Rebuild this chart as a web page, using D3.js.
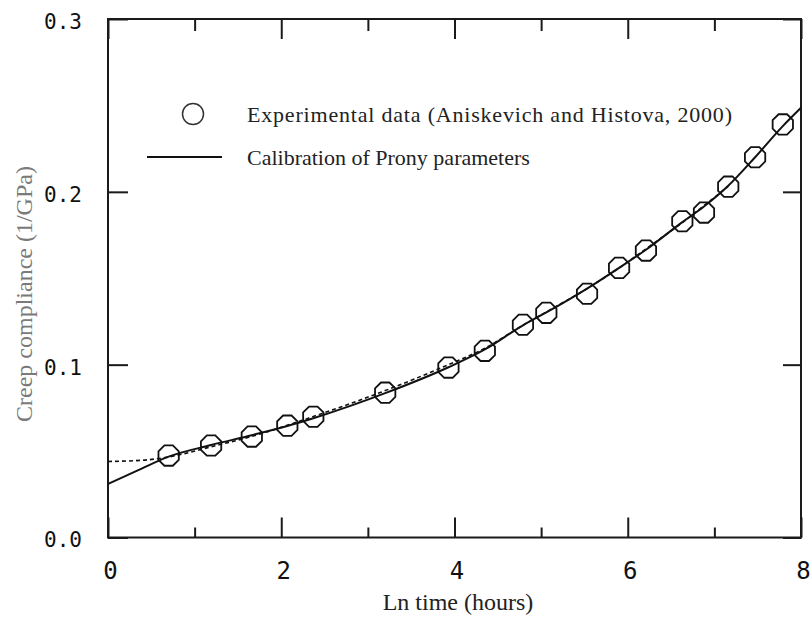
<!DOCTYPE html>
<html>
<head>
<meta charset="utf-8">
<style>
    html, body { margin: 0; padding: 0; background: #fff; }
    svg { display: block; }
</style>
</head>
<body>
<svg width="811" height="618"></svg>
<script src="https://d3js.org/d3.v7.min.js"></script>
<script>

    // experimental points (ln time, compliance)
    var expTime = [0.70, 1.19, 1.66, 2.07, 2.37, 3.20, 3.93, 4.35, 4.79, 5.06, 5.53, 5.90, 6.21, 6.63, 6.88, 7.16, 7.47, 7.79];
    var expComp = [0.0474, 0.0532, 0.0584, 0.0647, 0.0699, 0.0838, 0.0983, 0.1080, 0.1231, 0.1300, 0.1410, 0.1560, 0.1660, 0.1830, 0.1880, 0.2030, 0.2200, 0.2390];

    // calibrated curve (solid)
    var fitTime = [0, 0.35, 0.70, 1.19, 1.66, 2.07, 2.37, 3.20, 3.93, 4.35, 4.79, 5.06, 5.53, 5.90, 6.21, 6.63, 6.88, 7.16, 7.47, 7.79, 8.0];
    var fitComp = [0.0310, 0.0390, 0.0468, 0.0535, 0.0592, 0.0645, 0.0690, 0.0835, 0.0985, 0.1088, 0.1228, 0.1302, 0.1440, 0.1560, 0.1665, 0.1825, 0.1915, 0.2035, 0.2200, 0.2380, 0.2486];

    // dashed curve
    var dashTime = [0, 0.40, 0.70, 1.19, 1.66, 2.37, 3.20, 3.93, 4.35, 4.79, 5.06, 5.53, 5.90, 6.21, 6.63, 6.88, 7.16];
    var dashComp = [0.0440, 0.0447, 0.0466, 0.0525, 0.0585, 0.0700, 0.0850, 0.1000, 0.1095, 0.1228, 0.1305, 0.1440, 0.1560, 0.1670, 0.1822, 0.1920, 0.2032];

    var xMajor = [0, 2, 4, 6, 8];
    var xMinor = [1, 3, 5, 7];
    var yMajor = [0, 0.1, 0.2, 0.3];

    var legendLabels = ["Experimental data (Aniskevich and Histova, 2000)", "Calibration of Prony parameters"];
    var xTitle = "Ln time (hours)";
    var yTitle = "Creep compliance (1/GPa)";

    var svg = d3.select("svg"),
        pLeft = 108, pRight = 801, pTop = 19, pBottom = 537.5;

    var x = d3.scaleLinear().domain([0, 8]).range([pLeft, pRight]);
    var y = d3.scaleLinear().domain([0, 0.3]).range([pBottom, pTop]);

    function zip(a, b) { return a.map(function(v, i) { return [v, b[i]]; }); }

    // frame
    svg.append("rect")
        .attr("x", pLeft).attr("y", pTop)
        .attr("width", pRight - pLeft).attr("height", pBottom - pTop)
        .attr("fill", "none").attr("stroke", "#1a1a1a").attr("stroke-width", 2);

    function styleAxis(g) {
        g.select(".domain").remove();
        g.selectAll("line").attr("stroke", "#1a1a1a").attr("stroke-width", 2);
    }

    // major/minor ticks, all four sides, pointing inward
    var xb = svg.append("g").attr("transform", "translate(0," + pBottom + ")")
        .call(d3.axisBottom(x).tickValues(xMajor).tickSize(-20).tickPadding(24).tickFormat(d3.format("d")));
    styleAxis(xb);
    xb.selectAll("text")
        .attr("font-family", "DejaVu Sans Mono, monospace")
        .attr("font-size", 24).attr("fill", "#111").attr("dx", 2);
    svg.append("g").attr("transform", "translate(0," + pBottom + ")")
        .call(d3.axisBottom(x).tickValues(xMinor).tickSize(-10).tickFormat(""))
        .call(styleAxis);
    svg.append("g").attr("transform", "translate(0," + pTop + ")")
        .call(d3.axisTop(x).tickValues(xMajor).tickSize(-20).tickFormat(""))
        .call(styleAxis);
    svg.append("g").attr("transform", "translate(0," + pTop + ")")
        .call(d3.axisTop(x).tickValues(xMinor).tickSize(-12).tickFormat(""))
        .call(styleAxis);

    var yl = svg.append("g").attr("transform", "translate(" + pLeft + ",0)")
        .call(d3.axisLeft(y).tickValues(yMajor).tickSize(-20).tickPadding(26).tickFormat(d3.format(".1f")));
    styleAxis(yl);
    yl.selectAll("text")
        .attr("font-family", "DejaVu Sans Mono, monospace")
        .attr("font-size", 21).attr("fill", "#111").attr("dy", "0.45em");
    svg.append("g").attr("transform", "translate(" + pRight + ",0)")
        .call(d3.axisRight(y).tickValues(yMajor).tickSize(-18).tickFormat(""))
        .call(styleAxis);

    // curves
    var line = d3.line()
        .x(function(d) { return x(d[0]); })
        .y(function(d) { return y(d[1]); })
        .curve(d3.curveMonotoneX);

    svg.append("path")
        .datum(zip(dashTime, dashComp))
        .attr("fill", "none")
        .attr("stroke", "#111")
        .attr("stroke-width", 1.6)
        .attr("stroke-dasharray", "4,3")
        .attr("d", line);

    svg.append("path")
        .datum(zip(fitTime, fitComp))
        .attr("fill", "none")
        .attr("stroke", "#111")
        .attr("stroke-width", 2)
        .attr("d", line);

    // octagon markers
    var r = 11;
    var octagon = d3.range(8).map(function(k) {
        var a = Math.PI / 8 + k * Math.PI / 4;
        return [r * Math.cos(a), r * Math.sin(a)];
    });
    var octPath = "M" + octagon.join("L") + "Z";

    svg.append("g").selectAll("path")
        .data(zip(expTime, expComp))
        .enter().append("path")
        .attr("transform", function(d) { return "translate(" + x(d[0]) + "," + y(d[1]) + ")"; })
        .attr("d", octPath)
        .attr("fill", "none")
        .attr("stroke", "#111")
        .attr("stroke-width", 1.8);

    // legend
    var legend = svg.append("g");
    legend.append("circle")
        .attr("cx", 193).attr("cy", 114).attr("r", 10.5)
        .attr("fill", "none").attr("stroke", "#333").attr("stroke-width", 1.5);
    legend.append("line")
        .attr("x1", 147).attr("x2", 222).attr("y1", 157).attr("y2", 157)
        .attr("stroke", "#111").attr("stroke-width", 2);
    legend.selectAll("text")
        .data(legendLabels)
        .enter().append("text")
        .attr("x", 247)
        .attr("y", function(d, i) { return 122 + i * 43; })
        .attr("font-family", "Liberation Serif, serif")
        .attr("font-size", 22)
        .attr("fill", "#222")
        .text(function(d) { return d; });
    // first entry is a bit wider in the original
    legend.select("text")
        .attr("textLength", 485)
        .attr("lengthAdjust", "spacing");

    // axis titles
    svg.append("text")
        .attr("x", 458).attr("y", 610)
        .attr("text-anchor", "middle")
        .attr("font-family", "Liberation Serif, serif")
        .attr("font-size", 24)
        .attr("fill", "#222")
        .text(xTitle);

    svg.append("text")
        .attr("transform", "translate(32,294) rotate(-90)")
        .attr("text-anchor", "middle")
        .attr("font-family", "Liberation Serif, serif")
        .attr("font-size", 24)
        .attr("fill", "#7a7a7a")
        .text(yTitle);

</script>
</body>
</html>
